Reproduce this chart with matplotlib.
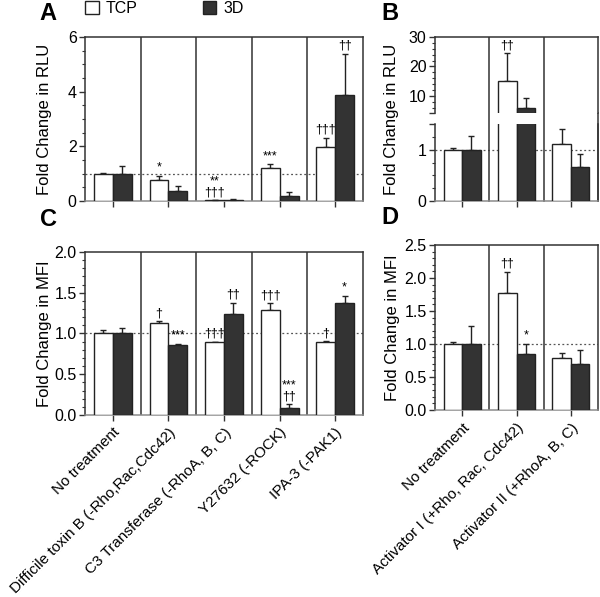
import numpy as np
import matplotlib
matplotlib.use('Agg')
import matplotlib.pyplot as plt
from matplotlib.patches import Patch
from matplotlib.ticker import MultipleLocator

plt.rcParams['font.family'] = ['Liberation Sans', 'DejaVu Sans']

# treatment labels
labels_inhib = ['No treatment', 'Difficile toxin B (-Rho,Rac,Cdc42)',
                'C3 Transferase (-RhoA, B, C)', 'Y27632 (-ROCK)', 'IPA-3 (-PAK1)']
labels_activ = ['No treatment', 'Activator I (+Rho, Rac, Cdc42)',
                'Activator II (+RhoA, B, C)']

# A: luciferase, inhibitors
tcp_A = [1.0, 0.77, 0.02, 1.19, 1.98]
tcp_A_err = [0.04, 0.15, 0.0, 0.16, 0.33]
d3_A = [1.0, 0.36, 0.05, 0.19, 3.87]
d3_A_err = [0.28, 0.19, 0.01, 0.13, 1.52]
ann_tcp_A = ['', '*', '**\n†††', '***', '†††']
ann_d3_A = ['', '', '', '', '††']

# B: luciferase, activators
tcp_B = [1.0, 15.2, 1.12]
tcp_B_err = [0.03, 9.3, 0.29]
d3_B = [1.0, 5.8, 0.67]
d3_B_err = [0.27, 3.5, 0.25]
ann_tcp_B = ['', '††', '']
ann_d3_B = ['', '', '']

# C: MFI, inhibitors
tcp_C = [1.0, 1.125, 0.90, 1.29, 0.89]
tcp_C_err = [0.04, 0.025, 0.0, 0.08, 0.012]
d3_C = [1.0, 0.855, 1.24, 0.09, 1.37]
d3_C_err = [0.07, 0.02, 0.135, 0.04, 0.09]
ann_tcp_C = ['', '†', '†††', '†††', '†']
ann_d3_C = ['', '***', '††', '***\n††', '*']

# D: MFI, activators
tcp_D = [1.0, 1.77, 0.79]
tcp_D_err = [0.03, 0.32, 0.08]
d3_D = [1.0, 0.85, 0.70]
d3_D_err = [0.27, 0.15, 0.21]
ann_tcp_D = ['', '††', '']
ann_d3_D = ['', '*', '']

W = 0.34
EDGE = '#222222'
DARK = '#333333'


def draw(ax, tcp, tcp_err, d3, d3_err, ann_t=None, ann_d=None, seps=True):
    n = len(tcp)
    x = np.arange(n)
    ax.bar(x - W / 2, tcp, W, color='white', edgecolor=EDGE, lw=1, zorder=3)
    ax.bar(x + W / 2, d3, W, color=DARK, edgecolor=EDGE, lw=1, zorder=3)
    zeros = np.zeros(n)
    ax.errorbar(x - W / 2, tcp, yerr=[zeros, tcp_err], fmt='none', ecolor=EDGE,
                elinewidth=1, capsize=2.5, capthick=1, zorder=2)
    ax.errorbar(x + W / 2, d3, yerr=[zeros, d3_err], fmt='none', ecolor=EDGE,
                elinewidth=1, capsize=2.5, capthick=1, zorder=2)
    ax.axhline(1, color='#555555', ls=(0, (1.5, 2)), lw=0.9, zorder=1)
    if seps:
        for s in np.arange(0.5, n - 1, 1.0):
            ax.axvline(s, color=DARK, lw=1.1, zorder=2)
    ax.set_xlim(-0.5, n - 0.5)
    ax.set_xticks(x)
    if ann_t is not None:
        for i in range(n):
            for xs, top, s in [(x[i] - W / 2, tcp[i] + tcp_err[i], ann_t[i]),
                               (x[i] + W / 2, d3[i] + d3_err[i], ann_d[i])]:
                if s:
                    ax.annotate(s, (xs, top), xytext=(0, 1.5), textcoords='offset points',
                                ha='center', va='bottom', fontsize=9, linespacing=0.85,
                                zorder=4)


def style(ax):
    for sp in ax.spines.values():
        sp.set_color(DARK)
        sp.set_linewidth(1.1)
    ax.spines['bottom'].set_color('#8a8a8a')
    ax.tick_params(axis='y', which='major', direction='out', length=4, width=1,
                   labelsize=11.5, color=DARK, pad=2)
    ax.tick_params(axis='y', which='minor', direction='out', length=2, width=0.8, color=DARK)
    ax.tick_params(axis='x', direction='out', length=4, width=1, color=DARK, labelsize=11)


fig = plt.figure(figsize=(6.0, 5.97), dpi=100)

# panel A
axA = fig.add_axes([0.1417, 0.6633, 0.4633, 0.2747])
draw(axA, tcp_A, tcp_A_err, d3_A, d3_A_err, ann_tcp_A, ann_d3_A)
axA.set_ylim(0, 6)
axA.set_yticks([0, 2, 4, 6])
axA.yaxis.set_minor_locator(MultipleLocator(0.5))
axA.set_xticklabels([])
axA.set_ylabel('Fold Change in RLU', fontsize=12)
axA.yaxis.set_label_coords(-0.119, 0.5)
style(axA)

# panel B (broken axis)
axB_lo = fig.add_axes([0.725, 0.6633, 0.2717, 0.129])
axB_hi = fig.add_axes([0.725, 0.8112, 0.2717, 0.1268])
draw(axB_lo, tcp_B, tcp_B_err, d3_B, d3_B_err, seps=False)
draw(axB_hi, tcp_B, tcp_B_err, d3_B, d3_B_err, ann_tcp_B, ann_d3_B, seps=False)
axB_lo.set_ylim(0, 1.5)
axB_hi.set_ylim(4.3, 30)
axB_lo.set_yticks([0, 1, 1.5])
axB_lo.set_yticklabels(['0', '1', ''])
axB_lo.yaxis.set_minor_locator(MultipleLocator(0.25))
axB_hi.set_yticks([4.3, 10, 20, 30])
axB_hi.set_yticklabels(['', '10', '20', '30'])
axB_hi.yaxis.set_minor_locator(MultipleLocator(2))
axB_lo.set_xticklabels([])
axB_hi.set_xticks([])
style(axB_lo)
style(axB_hi)
axB_lo.spines['top'].set_visible(False)
axB_hi.spines['bottom'].set_visible(False)
# separators and right border continue through the break
gap = (0.8112 - (0.6633 + 0.129)) / 0.129
for s in np.arange(0.5, len(tcp_B), 1.0):
    axB_lo.axvline(s, ymin=0, ymax=1 + gap, color=DARK, lw=1.1, zorder=2, clip_on=False)
for s in np.arange(0.5, len(tcp_B) - 1, 1.0):
    axB_hi.axvline(s, color=DARK, lw=1.1, zorder=2)
fig.text(0.665, 0.8007, 'Fold Change in RLU', rotation=90, ha='right', va='center',
         fontsize=12)

# panel C
axC = fig.add_axes([0.1417, 0.3049, 0.4633, 0.273])
draw(axC, tcp_C, tcp_C_err, d3_C, d3_C_err, ann_tcp_C, ann_d3_C)
axC.set_ylim(0, 2.0)
axC.set_yticks([0, 0.5, 1.0, 1.5, 2.0])
axC.yaxis.set_minor_locator(MultipleLocator(0.1))
axC.set_xticklabels(labels_inhib, rotation=45, ha='right', rotation_mode='anchor')
axC.set_ylabel('Fold Change in MFI', fontsize=12)
axC.yaxis.set_label_coords(-0.119, 0.5)
style(axC)

# panel D
axD = fig.add_axes([0.725, 0.3132, 0.2717, 0.2764])
draw(axD, tcp_D, tcp_D_err, d3_D, d3_D_err, ann_tcp_D, ann_d3_D)
axD.set_ylim(0, 2.5)
axD.set_yticks([0, 0.5, 1.0, 1.5, 2.0, 2.5])
axD.yaxis.set_minor_locator(MultipleLocator(0.1))
axD.set_xticklabels(labels_activ, rotation=45, ha='right', rotation_mode='anchor')
axD.set_ylabel('Fold Change in MFI', fontsize=12)
axD.yaxis.set_label_coords(-0.215, 0.5)
style(axD)

# panel letters
for lab, x, y in [('A', 0.066, 0.977), ('B', 0.636, 0.977),
                  ('C', 0.066, 0.633), ('D', 0.636, 0.636)]:
    fig.text(x, y, lab, fontsize=17, fontweight='bold', ha='left', va='center')

# legend, one entry per box so the two keys sit where they should
for patch, name, xpos in [(Patch(facecolor='white', edgecolor=EDGE, lw=1), 'TCP', 0.1417),
                          (Patch(facecolor=DARK, edgecolor=EDGE, lw=1), '3D', 0.338)]:
    fig.legend([patch], [name], frameon=False, fontsize=11.5,
               loc='center left', bbox_to_anchor=(xpos, 0.986),
               handlelength=0.85, handleheight=0.85, handletextpad=0.45,
               borderaxespad=0, borderpad=0)

fig.savefig('out.png', dpi=100)
